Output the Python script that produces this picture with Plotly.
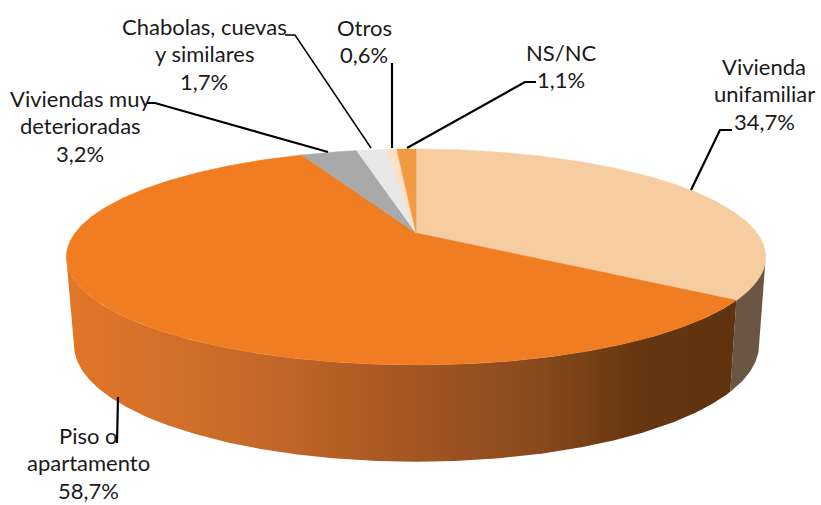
import numpy as np
import plotly.graph_objects as go

categories = ["Vivienda unifamiliar", "Piso o apartamento", "Viviendas muy deterioradas",
              "Chabolas, cuevas y similares", "Otros", "NS/NC"]
values = [34.7, 58.7, 3.2, 1.7, 0.6, 1.1]
value_labels = ["34,7%", "58,7%", "3,2%", "1,7%", "0,6%", "1,1%"]
top_colors = ["#F6CDA1", "#F07D22", "#A9A9A9", "#E8E8E8", "#FBE0C6", "#F29B42"]

# Label placement (text lines, centre x, first line centre y)
label_lines = [
    ["Vivienda", "unifamiliar", "34,7%"],
    ["Piso o", "apartamento", "58,7%"],
    ["Viviendas muy", "deterioradas", "3,2%"],
    ["Chabolas, cuevas", "y similares", "1,7%"],
    ["Otros", "0,6%"],
    ["NS/NC", "1,1%"],
]
label_x = [764, 88, 80, 204, 364, 561]
label_y = [66, 435, 98, 26, 27, 52]
LINE_STEP = 27.5

leaders = [
    ([691, 720, 732], [190, 130, 130], 2.2),
    ([118, 117], [397, 443], 2.2),
    ([328, 155, 147], [152, 103, 103], 2.2),
    ([371, 295, 285], [148, 35, 35], 1.5),
    ([392, 392], [148, 63], 2.2),
    ([407, 525, 536], [148, 82, 82], 2.2),
]

# Perspective disc geometry
K = 0.2222
TOP = dict(cx=416, cy=233, a=102.67, b=341)
BOT = dict(cx=416.5, cy=319, a=111, b=334)
WALL_RIGHT = "#6B5643"
WALL_STOPS = [[0, "#E27628"], [0.3, "#C4682A"], [0.5, "#A65722"],
              [0.7, "#8A4A1E"], [0.85, "#663711"], [1, "#5F330F"]]


def rim(theta, g):
    w = 1 + K * np.cos(theta)
    return g["cx"] + g["b"] * np.sin(theta) / w, g["cy"] - g["a"] * np.cos(theta) / w


def arc(t0, t1):
    return np.linspace(t0, t1, max(2, int(abs(t1 - t0) * 180 / np.pi * 2) + 2))


edges = np.concatenate([[0], np.cumsum(values)]) / sum(values) * 2 * np.pi
# Silhouette angles, where the projected disc is widest
SIDE_R = np.arccos(-K)
SIDE_L = 2 * np.pi - SIDE_R
fig = go.Figure()


def wall(t0, t1, **kw):
    t = arc(t0, t1)
    xt, yt = rim(t, TOP)
    xb, yb = rim(t[::-1], BOT)
    fig.add_trace(go.Scatter(x=np.r_[xt, xb], y=np.r_[yt, yb], mode="lines", fill="toself",
                             line=dict(width=0), hoverinfo="skip", showlegend=False, **kw))


# Front walls: grey-brown part of the first slice, shaded part of the second
wall(SIDE_R, edges[1], fillcolor=WALL_RIGHT)
wall(edges[1], SIDE_L,
     fillgradient=dict(type="horizontal", colorscale=WALL_STOPS, start=68, stop=735))

# Top faces
for i, name in enumerate(categories):
    t = arc(edges[i], edges[i + 1])
    x, y = rim(t, TOP)
    fig.add_trace(go.Scatter(x=np.r_[TOP["cx"], x, TOP["cx"]], y=np.r_[TOP["cy"], y, TOP["cy"]],
                             mode="lines", fill="toself", fillcolor=top_colors[i],
                             line=dict(width=0.5, color=top_colors[i]),
                             name=name, text=value_labels[i], hoverinfo="name+text", showlegend=False))

# Leader lines
for lx, ly, lw in leaders:
    fig.add_trace(go.Scatter(x=lx, y=ly, mode="lines", line=dict(color="black", width=lw),
                             hoverinfo="skip", showlegend=False))

annotations = []
for lines, x0, y0 in zip(label_lines, label_x, label_y):
    for j, s in enumerate(lines):
        annotations.append(dict(x=x0, y=y0 + j * LINE_STEP, text=s, showarrow=False,
                                xanchor="center", yanchor="middle",
                                font=dict(family="Lato", size=22, color="#1a1a1a")))

fig.update_layout(
    width=821, height=505, margin=dict(l=0, r=0, t=0, b=0),
    paper_bgcolor="white", plot_bgcolor="white", showlegend=False,
    xaxis=dict(range=[0, 821], visible=False, fixedrange=True),
    yaxis=dict(range=[505, 0], visible=False, fixedrange=True),
    annotations=annotations,
)
fig.write_html("out.html", config=dict(displayModeBar=False),
               post_script="document.body.style.margin='0';document.documentElement.style.overflow='hidden';")
